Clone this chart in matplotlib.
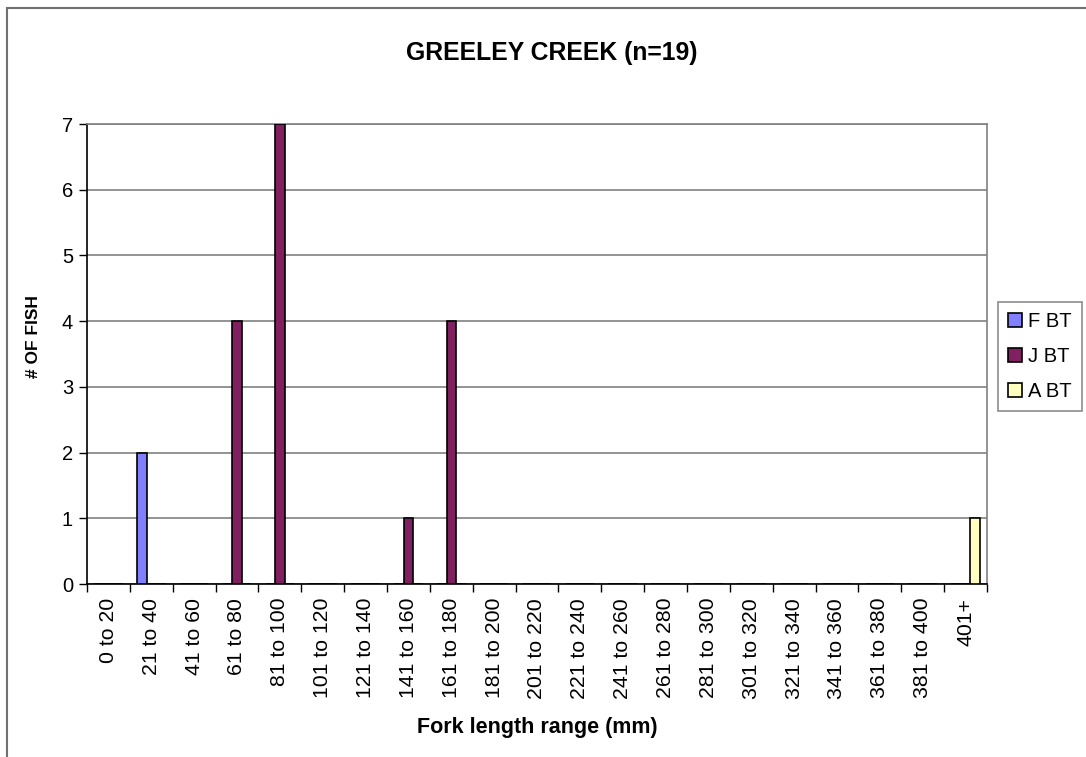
import numpy as np
import matplotlib
matplotlib.use("Agg")
import matplotlib.pyplot as plt
from matplotlib.patches import Rectangle, Patch

plt.rcParams['font.family'] = ['Liberation Sans', 'DejaVu Sans']

categories = ["0 to 20", "21 to 40", "41 to 60", "61 to 80", "81 to 100",
              "101 to 120", "121 to 140", "141 to 160", "161 to 180",
              "181 to 200", "201 to 220", "221 to 240", "241 to 260",
              "261 to 280", "281 to 300", "301 to 320", "321 to 340",
              "341 to 360", "361 to 380", "381 to 400", "401+"]
f_bt = [0, 2, 0, 0, 0, 0, 0, 0, 0, 0, 0, 0, 0, 0, 0, 0, 0, 0, 0, 0, 0]
j_bt = [0, 0, 0, 4, 7, 0, 0, 1, 4, 0, 0, 0, 0, 0, 0, 0, 0, 0, 0, 0, 0]
a_bt = [0, 0, 0, 0, 0, 0, 0, 0, 0, 0, 0, 0, 0, 0, 0, 0, 0, 0, 0, 0, 1]
series_names = ["F BT", "J BT", "A BT"]
series_colors = ["#8080FF", "#802060", "#FFFFC0"]

W, H = 1086, 757
fig = plt.figure(figsize=(W / 100, H / 100), dpi=100)

# outer chart border
fig.patches.append(Rectangle((7 / W, -0.1), 1.2, 1 - 8 / H + 0.1,
                             transform=fig.transFigure, fill=False,
                             edgecolor="#707070", linewidth=1.5))

left, right = 87 / W, 987 / W
bottom, top = 1 - 584 / H, 1 - 124 / H
ax = fig.add_axes([left, bottom, right - left, top - bottom])

x = np.arange(len(categories))
w = 1 / 4.5
for i, (vals, name, col) in enumerate(zip([f_bt, j_bt, a_bt], series_names, series_colors)):
    ax.bar(x + (i - 1) * w, vals, width=w, color=col, edgecolor="black",
           linewidth=1.2, label=name, zorder=3)

ax.set_xlim(-0.5, len(categories) - 0.5)
ax.set_ylim(0, 7)
ax.set_yticks(range(0, 8))
ax.yaxis.grid(True, color="#808080", linewidth=1.2, zorder=0)
ax.set_axisbelow(True)

ax.set_xticks(x)
ax.set_xticklabels(categories, rotation=90, fontsize=15.3)
ax.set_xticks(np.arange(-0.5, len(categories)), minor=True)
ax.tick_params(axis="x", which="major", length=0, pad=10)
ax.tick_params(axis="x", which="minor", length=6, width=1, direction="out")
ax.tick_params(axis="y", length=6, width=1, labelsize=14.5, pad=4)

for s in ["top", "right"]:
    ax.spines[s].set_color("#808080")
    ax.spines[s].set_linewidth(1.2)
for s in ["left", "bottom"]:
    ax.spines[s].set_color("black")
    ax.spines[s].set_linewidth(1.2)

fig.text(552 / W, 1 - 53 / H, "GREELEY CREEK (n=19)", ha="center", va="center",
         fontsize=17.8, fontweight="bold")
fig.text(537 / W, 1 - 727 / H, "Fork length range (mm)", ha="center", va="center",
         fontsize=15.5, fontweight="bold")
fig.text(33 / W, 1 - 337 / H, "# OF FISH", ha="center", va="center",
         rotation=90, fontsize=12.5, fontweight="bold")

handles = [Patch(facecolor=c, edgecolor="black", linewidth=1.2) for c in series_colors]
leg = fig.legend(handles, series_names, loc="upper left",
                 bbox_to_anchor=(998 / W, 1 - 302 / H), fontsize=14.5,
                 frameon=True, fancybox=False, edgecolor="#707070",
                 handlelength=0.7, handleheight=0.7, handletextpad=0.3,
                 borderpad=0.5, labelspacing=0.8, borderaxespad=0)
leg.get_frame().set_linewidth(1.2)

fig.savefig("out.png", dpi=100)
